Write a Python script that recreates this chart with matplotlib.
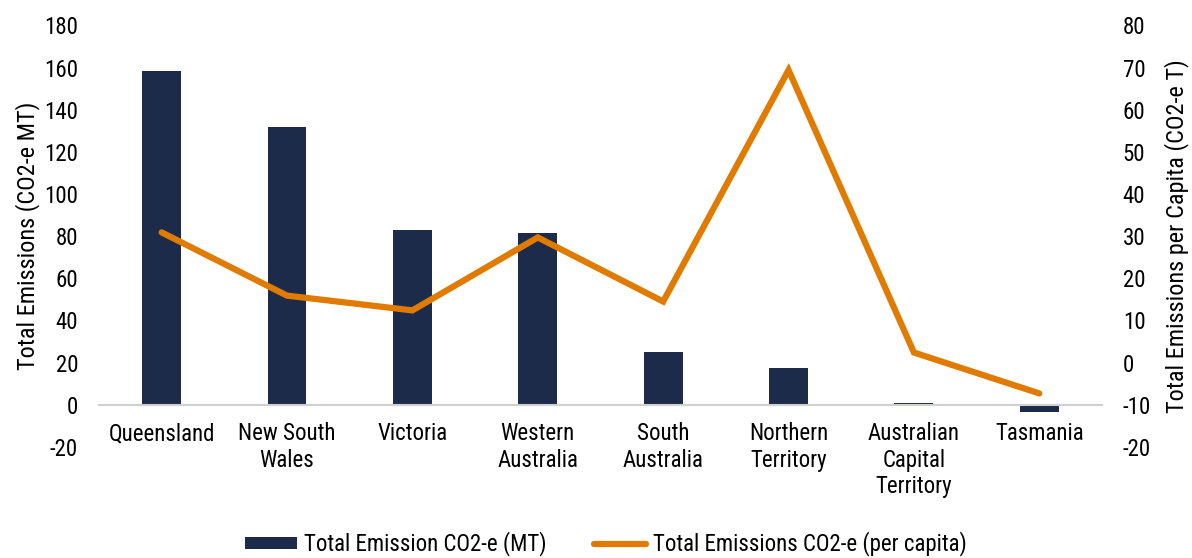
import matplotlib
matplotlib.use("Agg")
import matplotlib.pyplot as plt
from matplotlib import font_manager as fm

names = {f.name for f in fm.fontManager.ttflist}
cands = ['Liberation Sans Narrow', 'Roboto Condensed', 'Arial Narrow', 'Open Sans Condensed', 'Liberation Sans']
chosen = [c for c in cands if c in names][:1]
plt.rcParams['font.family'] = chosen + ['DejaVu Sans']
plt.rcParams['axes.unicode_minus'] = False

categories = ["Queensland", "New South\nWales", "Victoria", "Western\nAustralia",
              "South\nAustralia", "Northern\nTerritory", "Australian\nCapital\nTerritory", "Tasmania"]
total_mt = [158.4, 131.8, 82.9, 81.5, 25.0, 17.4, 1.0, -3.5]
per_capita = [30.9, 15.9, 12.4, 29.7, 14.5, 69.4, 2.4, -7.3]
left_ticks = [-20, 0, 20, 40, 60, 80, 100, 120, 140, 160, 180]
right_ticks = [-20, -10, 0, 10, 20, 30, 40, 50, 60, 70, 80]

navy = "#1c2b4a"
orange = "#e07b00"
fs = 16.5
lfs = 17.5

fig = plt.figure(figsize=(11.92, 5.58), dpi=100)
ax = fig.add_axes([0.083, 0.199, 0.8415, 0.7555])
x = list(range(len(categories)))
bars = ax.bar(x, total_mt, width=0.31, color=navy, zorder=2, label="Total Emission CO2-e (MT)")
ax.set_xlim(-0.5, len(categories) - 0.5)
ax.set_ylim(-20, 180)
ax.set_yticks(left_ticks)
ax.set_xticks(x)
ax.set_xticklabels(categories, linespacing=1.3)
for s in ['top', 'right', 'left']:
    ax.spines[s].set_visible(False)
ax.spines['bottom'].set_position(('data', 0))
ax.spines['bottom'].set_color('#d0d0d0')
ax.spines['bottom'].set_linewidth(1.5)
ax.tick_params(axis='x', length=0, pad=12.5, labelsize=fs)
ax.tick_params(axis='y', length=0, labelsize=fs, pad=15)
ax.set_ylabel("Total Emissions (CO2-e MT)", fontsize=lfs, labelpad=3)

ax2 = ax.twinx()
line, = ax2.plot(x, per_capita, color=orange, lw=4.5, solid_capstyle='round',
                 solid_joinstyle='miter', zorder=3, label="Total Emissions CO2-e (per capita)")
ax2.set_ylim(-20, 80)
ax2.set_yticks(right_ticks)
for s in ['top', 'right', 'left', 'bottom']:
    ax2.spines[s].set_visible(False)
ax2.tick_params(axis='y', length=0, labelsize=fs, pad=15)
ax2.set_ylabel("Total Emissions per Capita (CO2-e T)", fontsize=lfs, labelpad=9)

fig.legend([bars, line], [bars.get_label(), line.get_label()], loc='center',
           bbox_to_anchor=(606 / 1192, 1 - 544 / 558), ncol=2, frameon=False, fontsize=fs,
           handlelength=2.27, handleheight=0.45, handletextpad=0.3, columnspacing=2.1,
           borderpad=0.1)

fig.savefig("out.png", dpi=100)
